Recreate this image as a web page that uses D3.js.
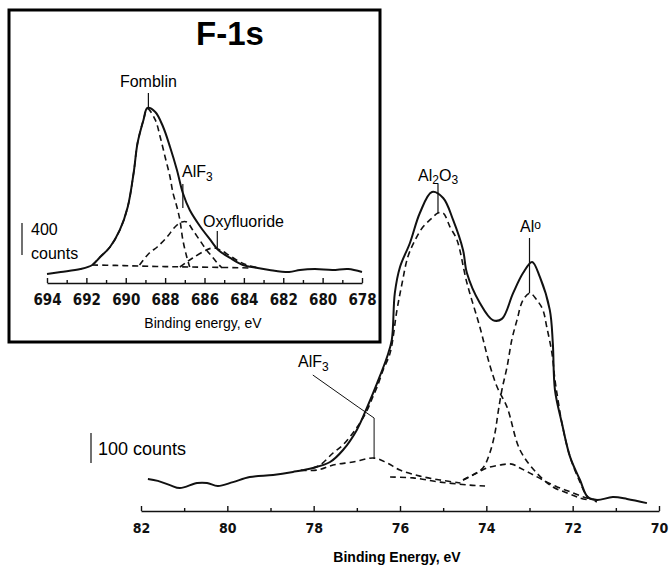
<!DOCTYPE html>
<html>
<head>
<meta charset="utf-8">
<script src="https://cdn.jsdelivr.net/npm/d3@7.9.0/dist/d3.min.js"></script>
<style>
  body { margin: 0; background: #fff; }
  svg { display: block; font-family: "Liberation Sans", Arial, sans-serif; }
  .num { font-family: "Liberation Sans Narrow", "DejaVu Sans Condensed", "Liberation Sans", sans-serif; font-weight: bold; }
</style>
</head>
<body>
<svg id="chart" width="672" height="568"></svg>
<script>
// binding energy (eV) vs counts

// F-1s inset
const insetTicks = [694, 692, 690, 688, 686, 684, 682, 680, 678];
const insetMinor = [693, 691, 689, 687, 685, 683, 681, 679];
const insetSum = [[694.0,13],[693.3,38],[692.3,75],[691.7,125],[691.3,225],[690.8,350],[690.3,563],
  [689.9,850],[689.6,1275],[689.4,1650],[689.1,1938],[688.9,2088],[688.5,2038],[688.1,1850],
  [687.75,1600],[687.4,1313],[687.1,1025],[686.75,813],[686.2,600],[685.7,438],[685.3,313],
  [684.7,213],[684.05,125],[683.3,88],[682.7,63],[681.7,38],[681.15,63],[680.4,75],[679.5,63],
  [678.7,75],[678.0,38]];
const insetFomblin = [[691.7,125],[691.3,225],[690.8,350],[690.3,563],[689.9,850],[689.6,1275],
  [689.4,1650],[689.1,1938],[688.9,2080],[688.5,1938],[688.25,1725],[688.0,1475],[687.75,1225],
  [687.6,1025],[687.4,850],[687.25,688],[687.1,438],[686.9,225],[686.75,100]];
const insetAlF3 = [[689.3,125],[688.8,275],[688.4,350],[687.9,475],[687.5,600],[687.15,663],
  [686.9,663],[686.6,563],[686.25,438],[685.9,313],[685.6,225],[685.35,150],[685.1,88]];
const insetOxy = [[687.25,100],[686.9,163],[686.6,213],[685.9,313],[685.55,338],[685.2,313],
  [684.7,238],[684.2,163],[683.7,113],[683.2,88]];
const insetBackground = [[691.7,125],[690.5,120],[689.3,112],[688.0,105],[686.7,100],[685.2,95],[683.7,88]];

// Al-2p main spectrum
const mainTicks = [82, 80, 78, 76, 74, 72, 70];
const mainMinor = [81, 79, 77, 75, 73, 71];
const mainSum = [[81.84,103],[81.61,97],[81.33,83],[81.1,73],[80.7,90],[80.47,90],[80.22,80],
  [79.87,93],[79.48,110],[78.94,117],[78.48,127],[78.02,140],[77.62,160],[77.32,200],[77.0,267],
  [76.76,343],[76.53,423],[76.3,510],[76.19,567],[76.12,723],[76.0,810],[75.77,890],[75.54,990],
  [75.26,1060],[75.0,1040],[74.77,967],[74.54,867],[74.45,790],[74.15,690],[73.85,633],[73.64,637],
  [73.38,723],[73.15,790],[72.94,827],[72.76,777],[72.53,667],[72.46,557],[72.41,400],[72.25,290],
  [72.06,177],[71.83,100],[71.65,43],[71.44,33],[71.07,43],[70.74,37],[70.28,23]];
const mainAlF3 = [[78.3,133],[77.92,133],[77.55,150],[77.09,160],[76.6,173],[76.3,157],[76.0,133],
  [75.54,113],[75.07,100],[74.6,90]];
const mainAl2O3 = [[78.02,140],[77.85,150],[77.55,190],[77.32,217],[77.09,257],[76.93,290],[76.76,333],
  [76.63,377],[76.53,410],[76.39,467],[76.23,523],[76.07,667],[75.95,757],[75.82,843],[75.65,900],
  [75.47,943],[75.26,973],[75.12,990],[75.0,990],[74.84,943],[74.68,900],[74.45,757],[74.15,610],
  [73.92,483],[73.75,410],[73.52,343],[73.22,200],[72.83,123],[72.46,77],[72.13,57],[71.83,40],[71.6,33]];
const mainAl0 = [[74.54,100],[74.31,117],[74.08,140],[73.92,190],[73.8,257],[73.73,323],[73.64,400],
  [73.52,477],[73.41,567],[73.29,633],[73.15,700],[72.99,723],[72.83,700],[72.69,667],[72.6,610],
  [72.48,523],[72.41,433],[72.34,367],[72.25,290],[72.06,177],[71.83,93],[71.65,43],[71.44,27]];
const mainAl0b = [[74.54,100],[74.22,123],[73.99,140],[73.68,150],[73.41,153],[73.22,140],[72.99,123],
  [72.69,100],[72.36,77],[71.99,57],[71.67,40],[71.37,33]];
const mainBackground = [[76.23,110],[75.7,107],[75.07,93],[74.38,83],[74.03,80]];

const svg = d3.select("#chart");
svg.append("rect").attr("width", 672).attr("height", 568).attr("fill", "#fff");

// scales
const xi = d3.scaleLinear().domain([694, 678]).range([47, 362]);
const yi = d3.scaleLinear().domain([0, 2400]).range([275, 83]);
const xm = d3.scaleLinear().domain([82, 70]).range([141, 659]);
const ym = d3.scaleLinear().domain([0, 1100]).range([510, 180]);

function drawCurve(data, x, y, dashed) {
  const line = d3.line().x(d => x(d[0])).y(d => y(d[1])).curve(d3.curveCatmullRom.alpha(0.5));
  svg.append("path")
    .datum(data)
    .attr("d", line)
    .attr("fill", "none")
    .attr("stroke", "#111")
    .attr("stroke-width", dashed ? 1.6 : 2)
    .attr("stroke-linejoin", "round")
    .attr("stroke-dasharray", dashed ? "6,4" : null);
}

function drawAxis(x, yPos, ticks, minor, padding, fontSize) {
  const g = svg.append("g").attr("transform", `translate(0,${yPos})`);
  g.call(d3.axisBottom(x).tickValues(ticks).tickSize(-5).tickSizeOuter(0).tickPadding(padding).tickFormat(d3.format("d")));
  g.append("g").call(d3.axisBottom(x).tickValues(minor).tickSize(-3).tickFormat(""))
    .select(".domain").remove();
  g.selectAll("path, line").attr("stroke", "#111").attr("stroke-width", 1.4);
  g.selectAll("text").attr("class", "num").attr("fill", "#111").style("font-size", fontSize + "px");
}

// ---- inset box ----
svg.append("rect")
  .attr("x", 9).attr("y", 10).attr("width", 371).attr("height", 332)
  .attr("fill", "none").attr("stroke", "#000").attr("stroke-width", 3);

svg.append("text").attr("x", 230).attr("y", 45).attr("text-anchor", "middle")
  .style("font-size", "33px").style("font-weight", "bold").text("F-1s");

drawCurve(insetBackground, xi, yi, true);
drawCurve(insetFomblin, xi, yi, true);
drawCurve(insetAlF3, xi, yi, true);
drawCurve(insetOxy, xi, yi, true);
drawCurve(insetSum, xi, yi, false);

drawAxis(xi, 283, insetTicks, insetMinor, 11, 15);

svg.append("text").attr("x", 203).attr("y", 328).attr("text-anchor", "middle")
  .style("font-size", "14px").text("Binding energy, eV");

// inset labels
const tick = (x1, y1, x2, y2) => svg.append("line")
  .attr("x1", x1).attr("y1", y1).attr("x2", x2).attr("y2", y2)
  .attr("stroke", "#111").attr("stroke-width", 1.2);

svg.append("text").attr("x", xi(688.85)).attr("y", 87).attr("text-anchor", "middle")
  .style("font-size", "16px").text("Fomblin");
tick(xi(688.85), 93, xi(688.85), yi(2088));

const alf3i = svg.append("text").attr("x", 182).attr("y", 177).style("font-size", "16px");
alf3i.append("tspan").text("AlF");
alf3i.append("tspan").attr("dy", 4).style("font-size", "12px").text("3");
tick(xi(687.1), 184, xi(687.1), 208);

svg.append("text").attr("x", 203).attr("y", 227).style("font-size", "16px").text("Oxyfluoride");
tick(xi(685.35), 231, xi(685.35), 248);

tick(22, yi(250), 22, yi(650));
svg.append("text").attr("x", 31).attr("y", 235).style("font-size", "16px").text("400");
svg.append("text").attr("x", 31).attr("y", 259).style("font-size", "16px").text("counts");

// ---- main spectrum ----
drawCurve(mainBackground, xm, ym, true);
drawCurve(mainAlF3, xm, ym, true);
drawCurve(mainAl0b, xm, ym, true);
drawCurve(mainAl0, xm, ym, true);
drawCurve(mainAl2O3, xm, ym, true);
drawCurve(mainSum, xm, ym, false);

drawAxis(xm, 511, mainTicks, mainMinor, 12, 14);

svg.append("text").attr("x", 397).attr("y", 562).attr("text-anchor", "middle")
  .style("font-size", "14px").style("font-weight", "bold").text("Binding Energy, eV");

// main labels
const al2o3 = svg.append("text").attr("x", 418).attr("y", 181).style("font-size", "16px");
al2o3.append("tspan").text("Al");
al2o3.append("tspan").attr("dy", 3).style("font-size", "12px").text("2");
al2o3.append("tspan").attr("dy", -3).text("O");
al2o3.append("tspan").attr("dy", 3).style("font-size", "12px").text("3");
tick(xm(75.12), 184, xm(75.12), ym(990));

const al0 = svg.append("text").attr("x", 520).attr("y", 232).style("font-size", "16px");
al0.append("tspan").text("Al");
al0.append("tspan").attr("dy", -3).style("font-size", "12px").text("o");
tick(xm(73.0), 238, xm(73.0), ym(723));

const alf3 = svg.append("text").attr("x", 298).attr("y", 367).style("font-size", "16px");
alf3.append("tspan").text("AlF");
alf3.append("tspan").attr("dy", 4).style("font-size", "12px").text("3");
svg.append("path")
  .attr("d", `M${xm(78.02)},375L${xm(76.97)},407L${xm(76.6)},418L${xm(76.6)},${ym(173)}`)
  .attr("fill", "none").attr("stroke", "#111").attr("stroke-width", 1);

tick(91, ym(157), 91, ym(257));
svg.append("text").attr("x", 98).attr("y", 455).style("font-size", "18px").text("100 counts");
</script>
</body>
</html>
